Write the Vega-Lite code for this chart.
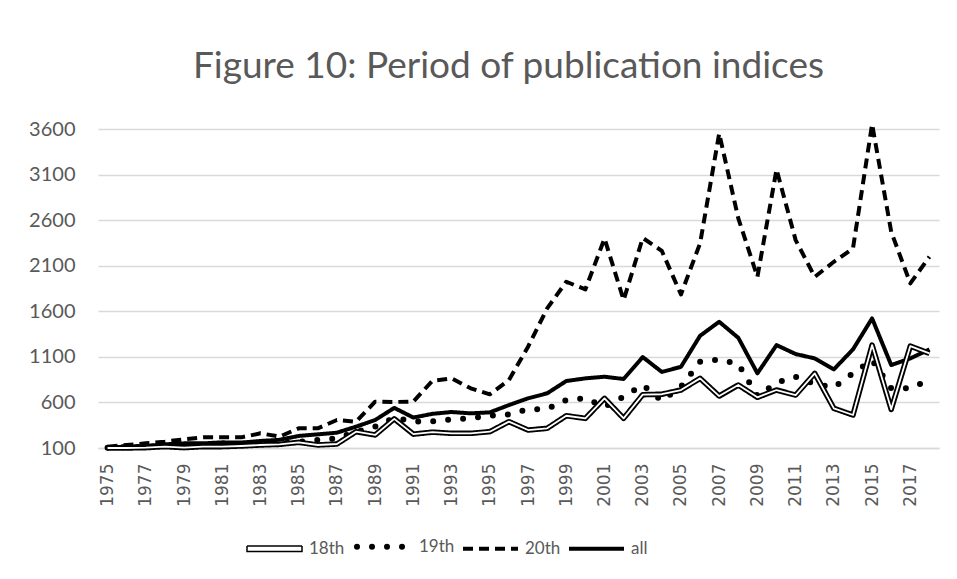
{
  "$schema": "https://vega.github.io/schema/vega-lite/v6.json",
  "width": 841,
  "height": 319,
  "autosize": {"type": "none"},
  "padding": {"left": 98, "top": 129, "right": 18, "bottom": 131},
  "background": "white",
  "title": {"text": "Figure 10: Period of publication indices", "font": "Lato", "fontSize": 37, "fontWeight": "normal", "color": "#595959", "anchor": "middle", "baseline": "alphabetic", "offset": 4, "dx": -10},
  "config": {"view": {"stroke": null}},
  "data": {"values": [
    {"year": 1975, "18th": 100, "19th": 104, "20th": 115, "all": 104},
    {"year": 1976, "18th": 100, "19th": 108, "20th": 133, "all": 115},
    {"year": 1977, "18th": 104, "19th": 115, "20th": 151, "all": 122},
    {"year": 1978, "18th": 115, "19th": 122, "20th": 170, "all": 140},
    {"year": 1979, "18th": 104, "19th": 115, "20th": 195, "all": 151},
    {"year": 1980, "18th": 115, "19th": 126, "20th": 217, "all": 151},
    {"year": 1981, "18th": 115, "19th": 122, "20th": 217, "all": 162},
    {"year": 1982, "18th": 122, "19th": 133, "20th": 217, "all": 160},
    {"year": 1983, "18th": 133, "19th": 140, "20th": 261, "all": 177},
    {"year": 1984, "18th": 140, "19th": 148, "20th": 225, "all": 190},
    {"year": 1985, "18th": 162, "19th": 169, "20th": 316, "all": 232},
    {"year": 1986, "18th": 133, "19th": 188, "20th": 316, "all": 250},
    {"year": 1987, "18th": 144, "19th": 206, "20th": 407, "all": 268},
    {"year": 1988, "18th": 279, "19th": 279, "20th": 389, "all": 334},
    {"year": 1989, "18th": 243, "19th": 334, "20th": 608, "all": 407},
    {"year": 1990, "18th": 420, "19th": 430, "20th": 605, "all": 540},
    {"year": 1991, "18th": 252, "19th": 392, "20th": 610, "all": 434},
    {"year": 1992, "18th": 274, "19th": 392, "20th": 838, "all": 475},
    {"year": 1993, "18th": 261, "19th": 415, "20th": 864, "all": 495},
    {"year": 1994, "18th": 261, "19th": 425, "20th": 755, "all": 480},
    {"year": 1995, "18th": 279, "19th": 454, "20th": 689, "all": 491},
    {"year": 1996, "18th": 389, "19th": 469, "20th": 846, "all": 571},
    {"year": 1997, "18th": 297, "19th": 524, "20th": 1211, "all": 645},
    {"year": 1998, "18th": 316, "19th": 528, "20th": 1632, "all": 700},
    {"year": 1999, "18th": 454, "19th": 626, "20th": 1924, "all": 835},
    {"year": 2000, "18th": 425, "19th": 645, "20th": 1840, "all": 864},
    {"year": 2001, "18th": 645, "19th": 553, "20th": 2399, "all": 882},
    {"year": 2002, "18th": 425, "19th": 663, "20th": 1723, "all": 857},
    {"year": 2003, "18th": 685, "19th": 791, "20th": 2405, "all": 1098},
    {"year": 2004, "18th": 690, "19th": 619, "20th": 2262, "all": 934},
    {"year": 2005, "18th": 736, "19th": 772, "20th": 1785, "all": 991},
    {"year": 2006, "18th": 864, "19th": 1046, "20th": 2345, "all": 1331},
    {"year": 2007, "18th": 670, "19th": 1072, "20th": 3551, "all": 1485},
    {"year": 2008, "18th": 791, "19th": 1021, "20th": 2620, "all": 1309},
    {"year": 2009, "18th": 656, "19th": 670, "20th": 1978, "all": 919},
    {"year": 2010, "18th": 736, "19th": 816, "20th": 3156, "all": 1229},
    {"year": 2011, "18th": 681, "19th": 882, "20th": 2381, "all": 1131},
    {"year": 2012, "18th": 919, "19th": 804, "20th": 1978, "all": 1083},
    {"year": 2013, "18th": 535, "19th": 766, "20th": 2143, "all": 963},
    {"year": 2014, "18th": 462, "19th": 919, "20th": 2290, "all": 1182},
    {"year": 2015, "18th": 1229, "19th": 1065, "20th": 3653, "all": 1522},
    {"year": 2016, "18th": 524, "19th": 755, "20th": 2472, "all": 1010},
    {"year": 2017, "18th": 1218, "19th": 755, "20th": 1906, "all": 1083},
    {"year": 2018, "18th": 1138, "19th": 846, "20th": 2198, "all": 1182}
  ]},
  "transform": [{"fold": ["18th", "19th", "20th", "all"], "as": ["series", "value"]}],
  "encoding": {
    "x": {"field": "year", "type": "quantitative",
      "scale": {"domain": [1974.5, 2018.5], "nice": false, "zero": false},
      "axis": {"values": [1975,1977,1979,1981,1983,1985,1987,1989,1991,1993,1995,1997,1999,2001,2003,2005,2007,2009,2011,2013,2015,2017],
        "format": "d", "labelAngle": 270, "labelFont": "DejaVu Sans", "labelFontSize": 17, "labelColor": "#595959",
        "ticks": false, "labelPadding": 15, "grid": false, "domainColor": "#d9d9d9", "domainWidth": 1.5, "title": null}},
    "y": {"field": "value", "type": "quantitative",
      "scale": {"domain": [100, 3600], "nice": false, "zero": false},
      "axis": {"values": [100, 600, 1100, 1600, 2100, 2600, 3100, 3600], "format": "d", "title": null, "domain": false, "ticks": false,
        "labelPadding": 23, "labelFont": "Lato", "labelFontSize": 20, "labelColor": "#595959",
        "gridColor": "#d9d9d9", "gridWidth": 1.5}}
  },
  "layer": [
    {
      "transform": [{"filter": "datum.series === '20th'"}],
      "mark": {"type": "line", "color": "black", "strokeWidth": 4, "strokeJoin": "round"},
      "encoding": {
        "strokeDash": {"field": "series", "type": "nominal",
          "scale": {"domain": ["18th", "19th", "20th", "all"], "range": [[1, 0], [0, 15], [10, 6], [1, 0]]},
          "legend": {"orient": "none", "legendX": 168, "legendY": 409, "direction": "horizontal", "title": null,
            "symbolType": "stroke", "symbolSize": 3025, "symbolStrokeColor": "black",
            "labelFont": "Lato", "labelFontSize": 17, "labelColor": "#595959", "labelOffset": 26, "columnPadding": 0,
            "encode": {"symbols": {"update": {
              "shape": {"signal": "datum.value === '18th' ? 'M-1,-0.1L1,-0.1L1,0.1L-1,0.1Z' : 'stroke'"},
              "fill": {"signal": "datum.value === '18th' ? 'white' : 'transparent'"},
              "stroke": {"value": "black"},
              "strokeCap": {"signal": "datum.value === '19th' ? 'round' : 'butt'"},
              "strokeWidth": {"signal": "datum.value === '18th' ? 1.5 : datum.value === '19th' ? 6 : 4"}
            }}}}
        }
      }
    },
    {
      "transform": [{"filter": "datum.series === '19th'"}],
      "mark": {"type": "line", "color": "black", "strokeWidth": 6, "strokeCap": "round", "strokeJoin": "round"},
      "encoding": {"strokeDash": {"field": "series", "type": "nominal"}}
    },
    {
      "transform": [{"filter": "datum.series === 'all'"}],
      "mark": {"type": "line", "color": "black", "strokeWidth": 4, "strokeJoin": "round"},
      "encoding": {"strokeDash": {"field": "series", "type": "nominal"}}
    },
    {
      "transform": [{"filter": "datum.series === '18th'"}],
      "mark": {"type": "line", "color": "black", "strokeWidth": 5.5, "strokeJoin": "round"},
      "encoding": {"strokeDash": {"field": "series", "type": "nominal"}}
    },
    {
      "transform": [{"filter": "datum.series === '18th'"}],
      "mark": {"type": "line", "color": "white", "strokeWidth": 1.8, "strokeJoin": "round"},
      "encoding": {}
    }
  ]
}
